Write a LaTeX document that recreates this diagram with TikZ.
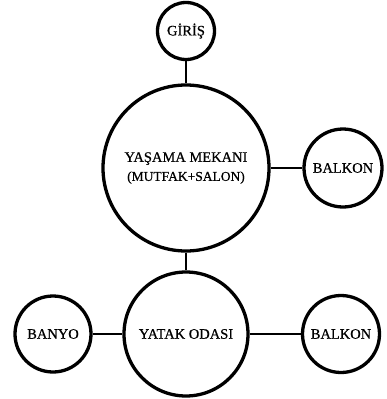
\documentclass[tikz,border=0pt]{standalone}
\usepackage{fontspec}
\setmainfont{Liberation Serif}[FakeBold=0.6]
\begin{document}
\begin{tikzpicture}[x=1pt,y=-1pt,
  room/.style={circle,draw=black,line width=3.3pt,fill=white,inner sep=0pt,
    align=center,font=\fontsize{14.5}{17}\selectfont},
  link/.style={draw=black,line width=1.4pt}]
\useasboundingbox (0,0) rectangle (387,399);
\fill[white] (0,0) rectangle (387,399);
% rooms
\node[room,minimum size=57pt] (giris) at (186,31) {GİRİŞ};
\node[room,minimum size=166pt] (yasama) at (186,168)
  {YAŞAMA MEKANI\\[2pt]{\fontsize{13.5}{16}\selectfont(MUTFAK+SALON)}};
\node[room,minimum size=78pt] (balkon1) at (343,168) {BALKON};
\node[room,minimum size=124pt] (yatak) at (186,334) {YATAK ODASI};
\node[room,minimum size=76pt] (banyo) at (53,334) {BANYO};
\node[room,minimum size=77pt] (balkon2) at (341,334) {BALKON};
% connections between the rooms
\draw[link] (giris) -- (yasama);
\draw[link] (yasama) -- (balkon1);
\draw[link] (yasama) -- (yatak);
\draw[link] (banyo) -- (yatak);
\draw[link] (yatak) -- (balkon2);
\end{tikzpicture}
\end{document}
